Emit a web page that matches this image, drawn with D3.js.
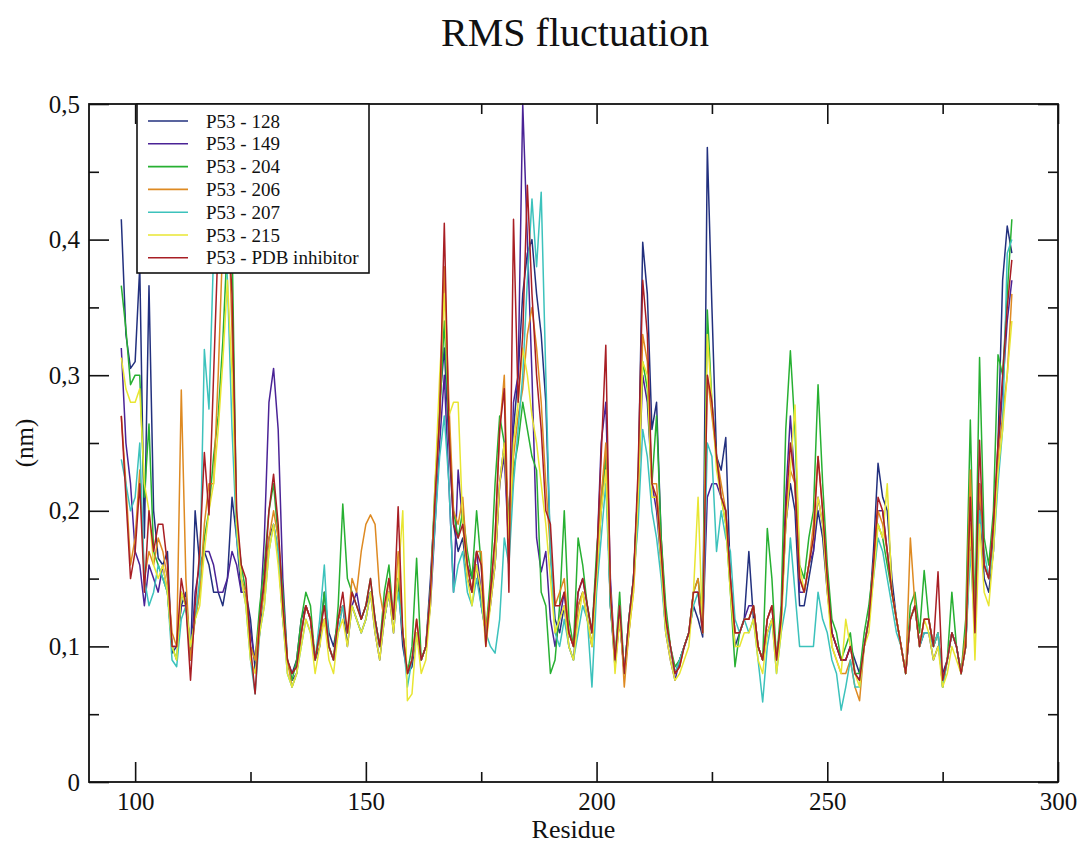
<!DOCTYPE html>
<html>
<head>
<meta charset="utf-8">
<script src="https://cdn.jsdelivr.net/npm/d3@7"></script>
<style>
  body { margin: 0; background: #fff; }
  svg text { font-family: "Liberation Serif", "DejaVu Serif", serif; fill: #111; }
</style>
</head>
<body>
<svg width="1084" height="845"></svg>
<script>
// residue numbers 97..290
const residues = d3.range(97, 291);

// RMSF values (nm), one per residue
const p53_128 = [
  .415,.33,.305,.31,.38,.18,.366,.20,.165,.16,
  .17,.095,.10,.13,.14,.09,.20,.16,.17,.16,
  .14,.14,.13,.15,.21,.18,.14,.14,.12,.083,
  .11,.15,.18,.19,.17,.12,.09,.08,.09,.12,
  .13,.12,.09,.10,.14,.11,.10,.12,.13,.10,
  .13,.12,.11,.12,.14,.11,.09,.12,.14,.11,
  .15,.10,.08,.085,.11,.09,.10,.15,.21,.28,
  .32,.25,.19,.17,.18,.15,.14,.16,.13,.11,
  .14,.16,.22,.25,.19,.26,.30,.36,.39,.40,
  .36,.33,.28,.17,.12,.11,.13,.10,.09,.13,
  .14,.12,.10,.15,.20,.24,.13,.085,.12,.08,
  .11,.15,.22,.398,.36,.26,.28,.18,.12,.10,
  .08,.09,.10,.11,.13,.12,.107,.468,.35,.24,
  .23,.254,.15,.10,.11,.12,.17,.12,.10,.09,
  .11,.12,.09,.12,.19,.22,.20,.13,.13,.15,
  .17,.20,.18,.14,.11,.10,.09,.09,.10,.09,
  .08,.10,.12,.17,.235,.21,.20,.15,.12,.10,
  .08,.12,.13,.10,.11,.11,.09,.10,.08,.09,
  .11,.10,.08,.10,.18,.12,.21,.15,.14,.17,
  .25,.37,.41,.39
];
const p53_149 = [
  .32,.25,.22,.17,.16,.13,.16,.15,.14,.16,
  .14,.10,.10,.13,.13,.09,.14,.16,.17,.17,
  .16,.14,.14,.15,.17,.16,.14,.14,.11,.09,
  .12,.18,.28,.305,.26,.15,.09,.075,.08,.11,
  .13,.12,.09,.11,.12,.10,.09,.12,.13,.11,
  .13,.14,.12,.13,.14,.12,.10,.12,.14,.12,
  .15,.11,.08,.09,.11,.09,.10,.13,.19,.25,
  .30,.22,.14,.23,.19,.16,.15,.17,.14,.11,
  .13,.16,.22,.24,.17,.28,.30,.50,.40,.30,
  .18,.155,.17,.12,.10,.12,.14,.11,.10,.14,
  .15,.13,.11,.16,.25,.28,.15,.09,.12,.08,
  .12,.15,.21,.30,.28,.22,.20,.16,.11,.09,
  .075,.09,.10,.11,.14,.14,.11,.21,.22,.22,
  .21,.20,.15,.11,.11,.12,.13,.13,.10,.09,
  .12,.13,.09,.12,.21,.27,.22,.14,.14,.16,
  .17,.21,.19,.15,.11,.10,.09,.09,.10,.08,
  .075,.10,.12,.16,.20,.20,.17,.14,.12,.10,
  .08,.12,.13,.10,.12,.12,.10,.11,.075,.09,
  .11,.10,.08,.10,.19,.12,.22,.16,.15,.18,
  .24,.29,.34,.37
];
const p53_204 = [
  .366,.334,.293,.30,.30,.21,.264,.17,.16,.15,
  .14,.10,.09,.14,.13,.10,.12,.14,.18,.20,
  .24,.27,.325,.40,.40,.19,.16,.14,.10,.09,
  .13,.16,.20,.22,.18,.14,.09,.075,.09,.12,
  .14,.13,.09,.11,.14,.10,.09,.13,.205,.15,
  .14,.13,.12,.13,.15,.12,.10,.14,.16,.12,
  .15,.11,.08,.10,.165,.09,.10,.14,.22,.27,
  .34,.26,.20,.18,.20,.17,.15,.20,.16,.11,
  .15,.22,.27,.25,.19,.23,.25,.28,.26,.24,
  .23,.14,.13,.08,.09,.13,.20,.12,.10,.18,
  .16,.13,.11,.17,.21,.24,.13,.09,.14,.08,
  .12,.15,.22,.31,.29,.22,.27,.18,.13,.10,
  .085,.09,.10,.11,.14,.15,.12,.348,.28,.24,
  .21,.19,.14,.085,.11,.12,.12,.13,.10,.09,
  .187,.15,.09,.13,.26,.318,.26,.16,.15,.18,
  .20,.293,.22,.16,.12,.11,.09,.10,.11,.08,
  .08,.11,.13,.16,.19,.18,.16,.14,.12,.10,
  .08,.13,.14,.11,.156,.12,.10,.11,.07,.09,
  .14,.10,.08,.12,.267,.12,.313,.18,.16,.20,
  .315,.30,.36,.415
];
const p53_206 = [
  .27,.22,.16,.18,.23,.15,.17,.16,.18,.17,
  .15,.11,.10,.289,.15,.09,.12,.14,.19,.22,
  .22,.30,.40,.45,.33,.19,.15,.14,.10,.09,
  .12,.14,.18,.20,.18,.13,.09,.07,.08,.11,
  .13,.12,.09,.11,.12,.10,.09,.12,.13,.11,
  .15,.14,.17,.19,.197,.19,.14,.12,.15,.12,
  .17,.11,.08,.09,.12,.09,.10,.14,.21,.27,
  .38,.28,.20,.19,.21,.16,.14,.17,.17,.11,
  .14,.18,.26,.30,.17,.24,.27,.29,.33,.35,
  .32,.28,.22,.17,.13,.14,.15,.11,.10,.13,
  .14,.12,.10,.15,.21,.25,.14,.09,.13,.07,
  .11,.14,.20,.33,.31,.22,.22,.17,.12,.10,
  .08,.085,.10,.11,.14,.15,.11,.30,.27,.24,
  .22,.20,.15,.11,.11,.12,.12,.13,.10,.09,
  .12,.13,.09,.12,.19,.23,.22,.15,.14,.16,
  .19,.24,.20,.15,.10,.09,.08,.08,.09,.07,
  .06,.10,.12,.16,.20,.19,.17,.14,.12,.10,
  .08,.18,.13,.10,.12,.12,.10,.11,.07,.09,
  .11,.10,.08,.11,.23,.11,.22,.16,.15,.19,
  .24,.27,.30,.36
];
const p53_207 = [
  .238,.22,.20,.21,.25,.15,.13,.14,.16,.15,
  .14,.09,.085,.12,.13,.10,.12,.15,.319,.275,
  .39,.46,.43,.37,.26,.18,.15,.13,.09,.065,
  .11,.13,.17,.19,.17,.12,.08,.07,.08,.10,
  .12,.11,.09,.12,.16,.10,.09,.11,.13,.11,
  .13,.12,.11,.12,.14,.12,.10,.12,.14,.12,
  .14,.11,.07,.09,.11,.09,.10,.14,.19,.24,
  .27,.22,.14,.16,.17,.14,.13,.15,.13,.11,
  .10,.095,.12,.18,.16,.22,.26,.30,.37,.43,
  .38,.435,.30,.17,.11,.10,.12,.10,.09,.11,
  .13,.12,.07,.14,.18,.22,.13,.09,.13,.08,
  .12,.15,.19,.26,.24,.20,.18,.15,.11,.10,
  .08,.09,.10,.11,.13,.14,.11,.25,.24,.17,
  .20,.18,.17,.12,.11,.12,.11,.12,.09,.059,
  .10,.12,.08,.11,.13,.18,.14,.10,.10,.10,
  .10,.14,.12,.11,.09,.08,.053,.07,.09,.07,
  .07,.10,.12,.15,.18,.17,.15,.13,.11,.10,
  .08,.12,.13,.10,.11,.11,.10,.11,.07,.09,
  .11,.10,.08,.10,.17,.11,.20,.17,.15,.17,
  .22,.26,.39,.40
];
const p53_215 = [
  .313,.29,.28,.28,.29,.22,.20,.16,.15,.16,
  .14,.10,.09,.14,.13,.10,.12,.13,.17,.20,
  .22,.26,.31,.37,.30,.19,.15,.13,.09,.08,
  .11,.13,.17,.19,.16,.12,.08,.07,.08,.10,
  .12,.11,.08,.10,.12,.09,.08,.11,.12,.10,
  .13,.12,.11,.12,.14,.11,.09,.12,.14,.11,
  .15,.20,.06,.065,.11,.08,.09,.13,.22,.30,
  .36,.27,.28,.28,.19,.15,.13,.16,.14,.10,
  .13,.16,.22,.25,.18,.25,.28,.32,.30,.27,
  .25,.22,.19,.15,.11,.12,.13,.10,.09,.12,
  .14,.12,.10,.15,.20,.23,.14,.08,.12,.08,
  .11,.14,.21,.31,.30,.21,.21,.16,.11,.09,
  .075,.08,.09,.10,.14,.21,.11,.33,.28,.23,
  .21,.19,.14,.10,.10,.11,.11,.12,.09,.08,
  .11,.12,.08,.11,.19,.23,.278,.16,.14,.16,
  .18,.21,.19,.14,.10,.09,.08,.12,.10,.08,
  .07,.10,.11,.15,.19,.18,.22,.14,.12,.10,
  .08,.12,.13,.10,.12,.11,.09,.10,.07,.08,
  .10,.09,.08,.10,.19,.09,.19,.14,.13,.17,
  .23,.26,.30,.34
];
const p53_pdb = [
  .27,.21,.15,.17,.22,.14,.20,.17,.19,.19,
  .16,.10,.10,.15,.13,.075,.13,.17,.243,.197,
  .30,.40,.38,.42,.36,.20,.16,.15,.10,.065,
  .12,.15,.20,.227,.19,.13,.09,.08,.085,.11,
  .13,.12,.09,.11,.13,.10,.09,.12,.14,.11,
  .14,.13,.12,.13,.15,.12,.10,.13,.15,.12,
  .203,.11,.08,.09,.12,.09,.10,.14,.21,.27,
  .412,.26,.19,.18,.19,.16,.14,.17,.16,.10,
  .14,.18,.26,.29,.14,.415,.28,.33,.44,.36,
  .30,.26,.20,.19,.13,.13,.14,.11,.10,.14,
  .15,.13,.11,.16,.24,.322,.14,.09,.13,.08,
  .12,.15,.23,.37,.33,.22,.21,.17,.12,.10,
  .08,.085,.10,.11,.14,.14,.11,.30,.28,.24,
  .21,.20,.15,.11,.11,.12,.12,.13,.10,.09,
  .12,.13,.09,.12,.20,.25,.22,.15,.14,.16,
  .18,.24,.20,.15,.11,.10,.09,.09,.10,.08,
  .075,.10,.12,.16,.21,.20,.17,.14,.12,.10,
  .08,.12,.13,.10,.12,.12,.10,.155,.075,.09,
  .11,.10,.08,.10,.21,.11,.252,.16,.15,.19,
  .25,.30,.35,.385
];

const seriesNames = ["P53 - 128", "P53 - 149", "P53 - 204", "P53 - 206",
                     "P53 - 207", "P53 - 215", "P53 - PDB inhibitor"];
const seriesValues = [p53_128, p53_149, p53_204, p53_206, p53_207, p53_215, p53_pdb];
const seriesColors = ["#22307e", "#4a2396", "#27b032", "#de8a22",
                      "#3cc2bc", "#e8e632", "#a81e24"];

const xMajor = [100, 150, 200, 250, 300];
const xMinor = [125, 175, 225, 275];
const yMajor = [0, 0.1, 0.2, 0.3, 0.4, 0.5];
const yMinor = [0.05, 0.15, 0.25, 0.35, 0.45];

let svg = d3.select("svg");
let plotLeft = 89, plotRight = 1058, plotTop = 104, plotBottom = 782;

let x = d3.scaleLinear().domain([90, 300]).range([plotLeft, plotRight]);
let y = d3.scaleLinear().domain([0, 0.5]).range([plotBottom, plotTop]);

let commaFmt = d => d === 0 ? "0" : d3.format(".1f")(d).replace(".", ",");

// title
svg.append("text")
    .attr("x", 575).attr("y", 46)
    .attr("text-anchor", "middle")
    .style("font-size", "40px")
    .text("RMS fluctuation");

// lines, drawn in legend order so the red one ends up on top
let line = d3.line()
    .x((d, i) => x(residues[i]))
    .y(d => y(d));

svg.selectAll(".rmsf")
    .data(seriesValues)
    .enter()
    .append("path")
    .classed("rmsf", true)
    .attr("d", d => line(d))
    .attr("fill", "none")
    .attr("stroke", (d, i) => seriesColors[i])
    .attr("stroke-width", 1.5)
    .attr("stroke-linejoin", "round");

// axes with inward ticks on all four sides
function styleAxis(g) {
  g.select(".domain").remove();
  g.selectAll("line").attr("stroke", "#111").attr("stroke-width", 1.6);
  g.selectAll("text").style("font-size", "25px").style("font-family", "Liberation Serif, serif");
}

svg.append("g")
    .attr("transform", "translate(0," + plotBottom + ")")
    .call(d3.axisBottom(x).tickValues(xMajor).tickSize(-20).tickPadding(10).tickFormat(d3.format("d")))
    .call(styleAxis);
svg.append("g")
    .attr("transform", "translate(0," + plotBottom + ")")
    .call(d3.axisBottom(x).tickValues(xMinor).tickSize(-10).tickFormat(""))
    .call(styleAxis);
svg.append("g")
    .attr("transform", "translate(0," + plotTop + ")")
    .call(d3.axisTop(x).tickValues(xMajor).tickSize(-20).tickFormat(""))
    .call(styleAxis);
svg.append("g")
    .attr("transform", "translate(0," + plotTop + ")")
    .call(d3.axisTop(x).tickValues(xMinor).tickSize(-10).tickFormat(""))
    .call(styleAxis);

svg.append("g")
    .attr("transform", "translate(" + plotLeft + ",0)")
    .call(d3.axisLeft(y).tickValues(yMajor).tickSize(-20).tickPadding(9).tickFormat(commaFmt))
    .call(styleAxis);
svg.append("g")
    .attr("transform", "translate(" + plotLeft + ",0)")
    .call(d3.axisLeft(y).tickValues(yMinor).tickSize(-10).tickFormat(""))
    .call(styleAxis);
svg.append("g")
    .attr("transform", "translate(" + plotRight + ",0)")
    .call(d3.axisRight(y).tickValues(yMajor).tickSize(-20).tickFormat(""))
    .call(styleAxis);
svg.append("g")
    .attr("transform", "translate(" + plotRight + ",0)")
    .call(d3.axisRight(y).tickValues(yMinor).tickSize(-10).tickFormat(""))
    .call(styleAxis);

// frame
svg.append("rect")
    .attr("x", plotLeft).attr("y", plotTop)
    .attr("width", plotRight - plotLeft).attr("height", plotBottom - plotTop)
    .attr("fill", "none")
    .attr("stroke", "#111")
    .attr("stroke-width", 1.8);

// axis titles
svg.append("text")
    .attr("x", (plotLeft + plotRight) / 2).attr("y", 838)
    .attr("text-anchor", "middle")
    .style("font-size", "26px")
    .text("Residue");

svg.append("text")
    .attr("transform", "translate(33," + ((plotTop + plotBottom) / 2) + ") rotate(-90)")
    .attr("text-anchor", "middle")
    .style("font-size", "25px")
    .text("(nm)");

// legend box
let legend = svg.append("g").attr("transform", "translate(137," + plotTop + ")");
legend.append("rect")
    .attr("width", 232).attr("height", 169)
    .attr("fill", "#fff")
    .attr("stroke", "#111")
    .attr("stroke-width", 1.6);

let items = legend.selectAll(".item")
    .data(seriesNames)
    .enter()
    .append("g")
    .classed("item", true)
    .attr("transform", (d, i) => "translate(0," + (17 + i * 22.8) + ")");

items.append("line")
    .attr("x1", 11).attr("x2", 51)
    .attr("stroke", (d, i) => seriesColors[i])
    .attr("stroke-width", 1.6);

items.append("text")
    .attr("x", 69).attr("dy", "0.35em")
    .style("font-size", "19px")
    .text(d => d);
</script>
</body>
</html>
